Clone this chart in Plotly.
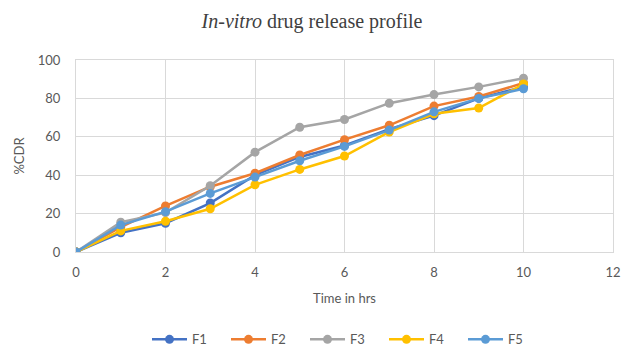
import plotly.graph_objects as go

time_hrs = [0, 1, 2, 3, 4, 5, 6, 7, 8, 9, 10]
F1 = [0, 10, 15, 25.5, 40, 49.5, 55.5, 64, 71, 80, 86]
F2 = [0, 13, 24, 34, 41, 50.5, 58.5, 66, 76, 81, 88]
F3 = [0, 15.5, 20.5, 34.5, 52, 65, 69, 77.5, 82, 86, 90.5]
F4 = [0, 11, 16, 22.5, 35, 43, 50, 62.5, 72, 75, 87.5]
F5 = [0, 14, 21, 30.5, 39, 47.5, 55, 63.5, 73, 80, 85]

series = [("F1", F1, "#4472C4"), ("F2", F2, "#ED7D31"), ("F3", F3, "#A5A5A5"),
          ("F4", F4, "#FFC000"), ("F5", F5, "#5B9BD5")]

fig = go.Figure()
for name, vals, color in series:
    fig.add_trace(go.Scatter(x=time_hrs, y=vals, name=name, mode="lines+markers",
                             line=dict(color=color, width=2.5),
                             marker=dict(color=color, size=9)))

axis_font = dict(family="Lato, Liberation Sans, sans-serif", size=13, color="#595959")
fig.update_layout(
    width=624, height=350,
    margin=dict(l=76, r=11, t=60, b=98, autoexpand=False),
    paper_bgcolor="white", plot_bgcolor="white",
    title=dict(text="<i>In-vitro</i> drug release profile", x=0.5, xanchor="center",
               y=0.94, yanchor="middle",
               font=dict(family="Liberation Serif, Times New Roman, serif", size=20, color="#404040")),
    font=axis_font,
    showlegend=True,
    legend=dict(orientation="h", x=0.5, xanchor="center", y=-0.455, yanchor="middle",
                itemwidth=35, entrywidth=29, entrywidthmode="pixels",
                font=dict(family="Lato, Liberation Sans, sans-serif", size=13, color="#595959")),
    xaxis=dict(range=[0, 12], dtick=2, tick0=0, showgrid=True, gridcolor="#D9D9D9",
               showline=True, linecolor="#D9D9D9", mirror=True, zeroline=False,
               ticks="", tickfont=axis_font, ticklabelstandoff=8,
               title=dict(text="Time in hrs", font=axis_font, standoff=15)),
    yaxis=dict(range=[0, 100], dtick=20, tick0=0, showgrid=True, gridcolor="#D9D9D9",
               showline=True, linecolor="#D9D9D9", mirror=True, zeroline=False,
               ticks="", tickfont=axis_font, ticklabelstandoff=12,
               title=dict(text="%CDR", font=axis_font, standoff=10)),
)

fig.write_html("out.html")
